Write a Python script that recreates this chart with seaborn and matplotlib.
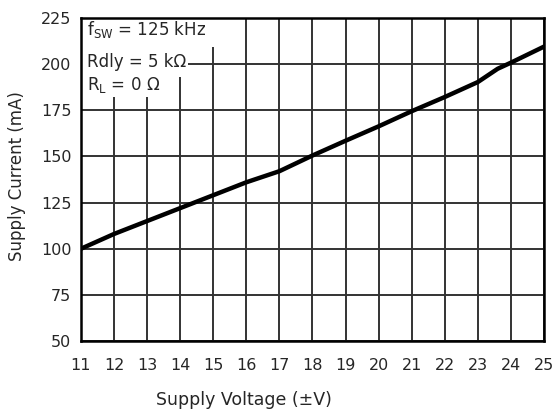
import matplotlib
matplotlib.use("Agg")
import matplotlib.pyplot as plt
from matplotlib.patches import Rectangle
import seaborn as sns
import pandas as pd

# values
voltage = [11, 12, 13, 14, 15, 16, 17, 18, 19, 20, 21, 22, 23, 23.6, 24, 25]
current = [100, 108, 115, 122, 129, 136, 142, 150.5, 158.5, 166.3, 174.5, 182.2, 190.3, 197.5, 200.8, 209.5]
x_ticks = list(range(11, 26))
y_ticks = [50, 75, 100, 125, 150, 175, 200, 225]
notes = [r"f$_{\mathregular{SW}}$ = 125 kHz", "Rdly = 5 k\u03a9", "R$_{\\mathregular{L}}$ = 0 \u03a9"]

sns.set_style("white")
plt.rcParams["font.family"] = ["DejaVu Sans"]

df = pd.DataFrame({"v": voltage, "i": current})

fig = plt.figure(figsize=(5.56, 4.11), dpi=100)
ax = fig.add_axes([81 / 556, 1 - 341 / 411, 463 / 556, 323 / 411])

for x in x_ticks:
    ax.axvline(x, color="#333333", linewidth=1.4, zorder=1)
for y in y_ticks:
    ax.axhline(y, color="#333333", linewidth=1.4, zorder=1)

sns.lineplot(data=df, x="v", y="i", ax=ax, color="black", linewidth=3.2, zorder=5)

ax.set_xlim(11, 25)
ax.set_ylim(50, 225)
ax.set_xticks(x_ticks)
ax.set_yticks(y_ticks)
ax.tick_params(axis="x", length=0, labelsize=11.5, pad=12)
ax.tick_params(axis="y", length=0, labelsize=11.5, pad=7)
ax.set_xlabel("Supply Voltage (±V)", fontsize=12.5)
ax.set_ylabel("Supply Current (mA)", fontsize=12)
ax.xaxis.set_label_coords(0.352, -0.155)
ax.yaxis.set_label_coords(-0.118, 0.51)
for s in ax.spines.values():
    s.set_color("black")
    s.set_linewidth(1.8)
    s.set_zorder(6)

# white label boxes that blank out the grid behind the notes
boxes = [(0.312, 0.910, 0.090), (0.232, 0.817, 0.093), (0.182, 0.755, 0.062)]
for w, y0, h in boxes:
    ax.add_patch(Rectangle((0, y0), w, h, transform=ax.transAxes, facecolor="white",
                           edgecolor="none", zorder=4))
for txt, ty in zip(notes, [0.963, 0.864, 0.793]):
    ax.text(0.013, ty, txt, transform=ax.transAxes, fontsize=12, va="center", ha="left", zorder=7)

fig.savefig("out.png", dpi=100)
